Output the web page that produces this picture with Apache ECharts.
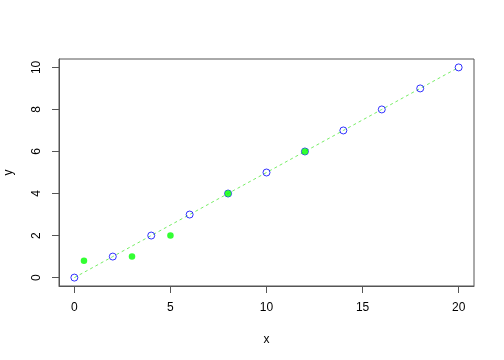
<!DOCTYPE html>
<html><head><meta charset="utf-8">
<script src="https://cdn.jsdelivr.net/npm/echarts@6/dist/echarts.min.js"></script>
<style>html,body{margin:0;padding:0;background:#fff}#c{width:504px;height:360px}</style>
</head><body><div id="c"></div>
<script>
const blueX = [0,2,4,6,8,10,12,14,16,18,20];
const blueY = [0,1,2,3,4,5,6,7,8,9,10];
const greenX = [0.5,3,5,8,12];
const greenY = [0.8,1,2,4,6];
const xTicks = [0,5,10,15,20];
const yTicks = [0,2,4,6,8,10];

const font = 'Liberation Sans, Arial, Helvetica, sans-serif';
const axisCol = '#555';
const chart = echarts.init(document.getElementById('c'), null, {renderer:'canvas'});
chart.setOption({
  animation:false,
  backgroundColor:'#fff',
  grid:{left:59, right:30, top:59, bottom:74, show:true, borderColor:axisCol, borderWidth:1,
        backgroundColor:'transparent', containLabel:false, outerBoundsMode:'none'},
  xAxis:{type:'value', min:-0.8, max:20.8, name:'x', nameLocation:'middle', nameGap:48,
    nameTextStyle:{fontFamily:font, fontSize:12, color:'#000'},
    splitLine:{show:false},
    axisLine:{show:true, onZero:false, lineStyle:{color:axisCol}},
    axisTick:{show:true, length:7, customValues:xTicks, lineStyle:{color:axisCol}},
    axisLabel:{customValues:xTicks, margin:16, fontFamily:font, fontSize:12, color:'#000'}},
  yAxis:{type:'value', min:-0.4, max:10.4, name:'y', nameLocation:'middle', nameGap:44,
    nameTextStyle:{fontFamily:font, fontSize:12, color:'#000'},
    splitLine:{show:false},
    axisLine:{show:true, onZero:false, lineStyle:{color:axisCol}},
    axisTick:{show:true, length:7, customValues:yTicks, lineStyle:{color:axisCol}},
    axisLabel:{customValues:yTicks, rotate:90, margin:16, fontFamily:font, fontSize:12, color:'#000'}},
  series:[
    {type:'line', data:blueX.map((x,i)=>[x,blueY[i]]), showSymbol:false, symbol:'none',
     lineStyle:{color:'#77ee66', width:1, type:[3,3]}, z:1},
    {type:'scatter', data:blueX.map((x,i)=>[x,blueY[i]]), symbol:'circle', symbolSize:7,
     itemStyle:{color:'rgba(255,255,255,0)', borderColor:'#0000ff', borderWidth:1}, z:2},
    {type:'scatter', data:greenX.map((x,i)=>[x,greenY[i]]), symbol:'circle', symbolSize:6.5,
     itemStyle:{color:'#00ff00'}, z:3}
  ]
});
</script></body></html>
